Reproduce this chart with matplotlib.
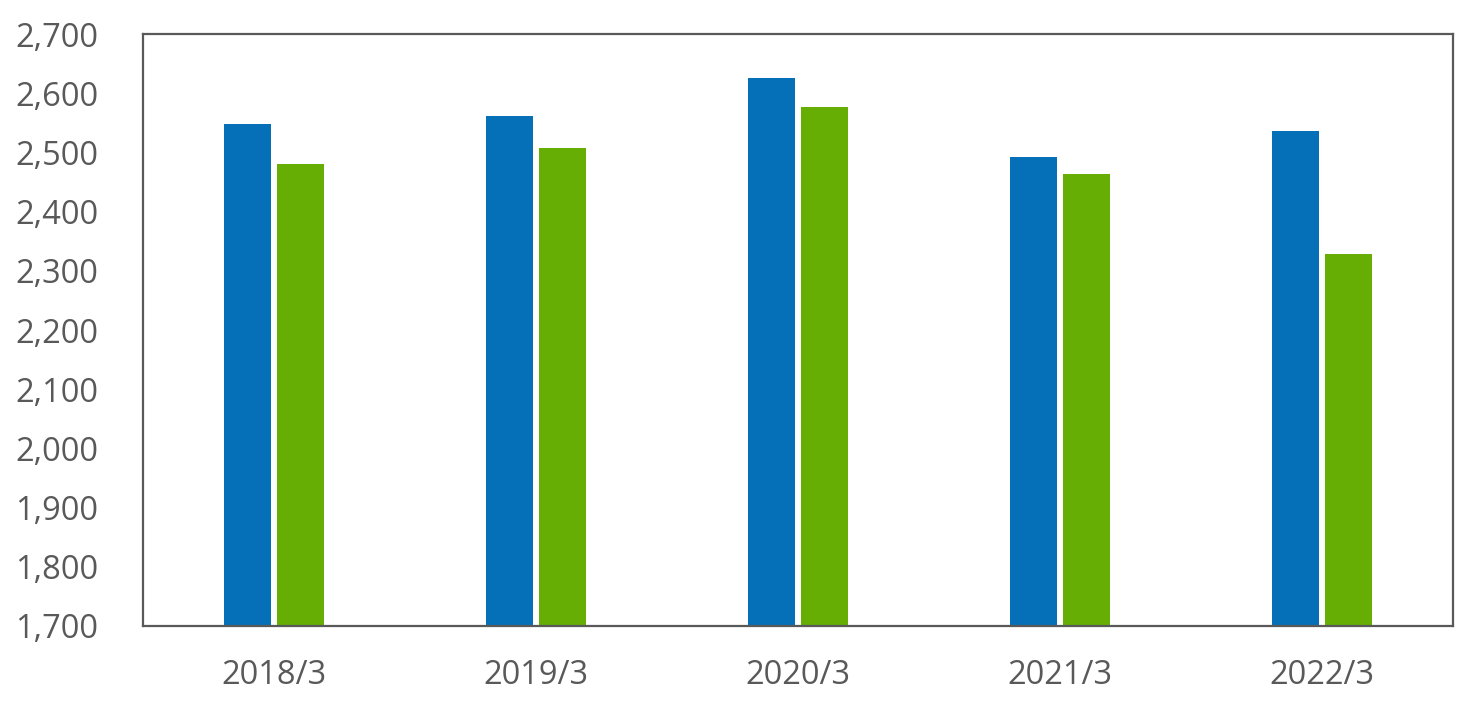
import numpy as np
import matplotlib.pyplot as plt
from matplotlib.ticker import FuncFormatter

periods = ['2018/3', '2019/3', '2020/3', '2021/3', '2022/3']
series_a = [2548, 2561, 2626, 2492, 2536]
series_b = [2480, 2507, 2577, 2463, 2328]

plt.rcParams['font.family'] = ['Open Sans', 'DejaVu Sans']

fig = plt.figure(figsize=(14.77, 7.09), dpi=100)
ax = fig.add_axes([143 / 1477, 1 - 626 / 709, (1453 - 143) / 1477, (626 - 34) / 709])

x = np.arange(len(periods))
w = 0.18
off = 0.101
ax.bar(x - off, series_a, width=w, color='#0570B8', zorder=2)
ax.bar(x + off, series_b, width=w, color='#66AE04', zorder=2)

ax.set_xlim(-0.5, len(periods) - 0.5)
ax.set_ylim(1700, 2700)
ax.set_yticks(np.arange(1700, 2701, 100))
ax.yaxis.set_major_formatter(FuncFormatter(lambda v, p: f'{int(v):,}'))
ax.set_xticks(x)
ax.set_xticklabels(periods)
ax.tick_params(length=0, labelsize=23.5, colors='#595959')
ax.tick_params(axis='y', pad=32)
ax.tick_params(axis='x', pad=24)
for s in ax.spines.values():
    s.set_color('#595959')
    s.set_linewidth(1.6)

fig.savefig('out.png', dpi=100)
